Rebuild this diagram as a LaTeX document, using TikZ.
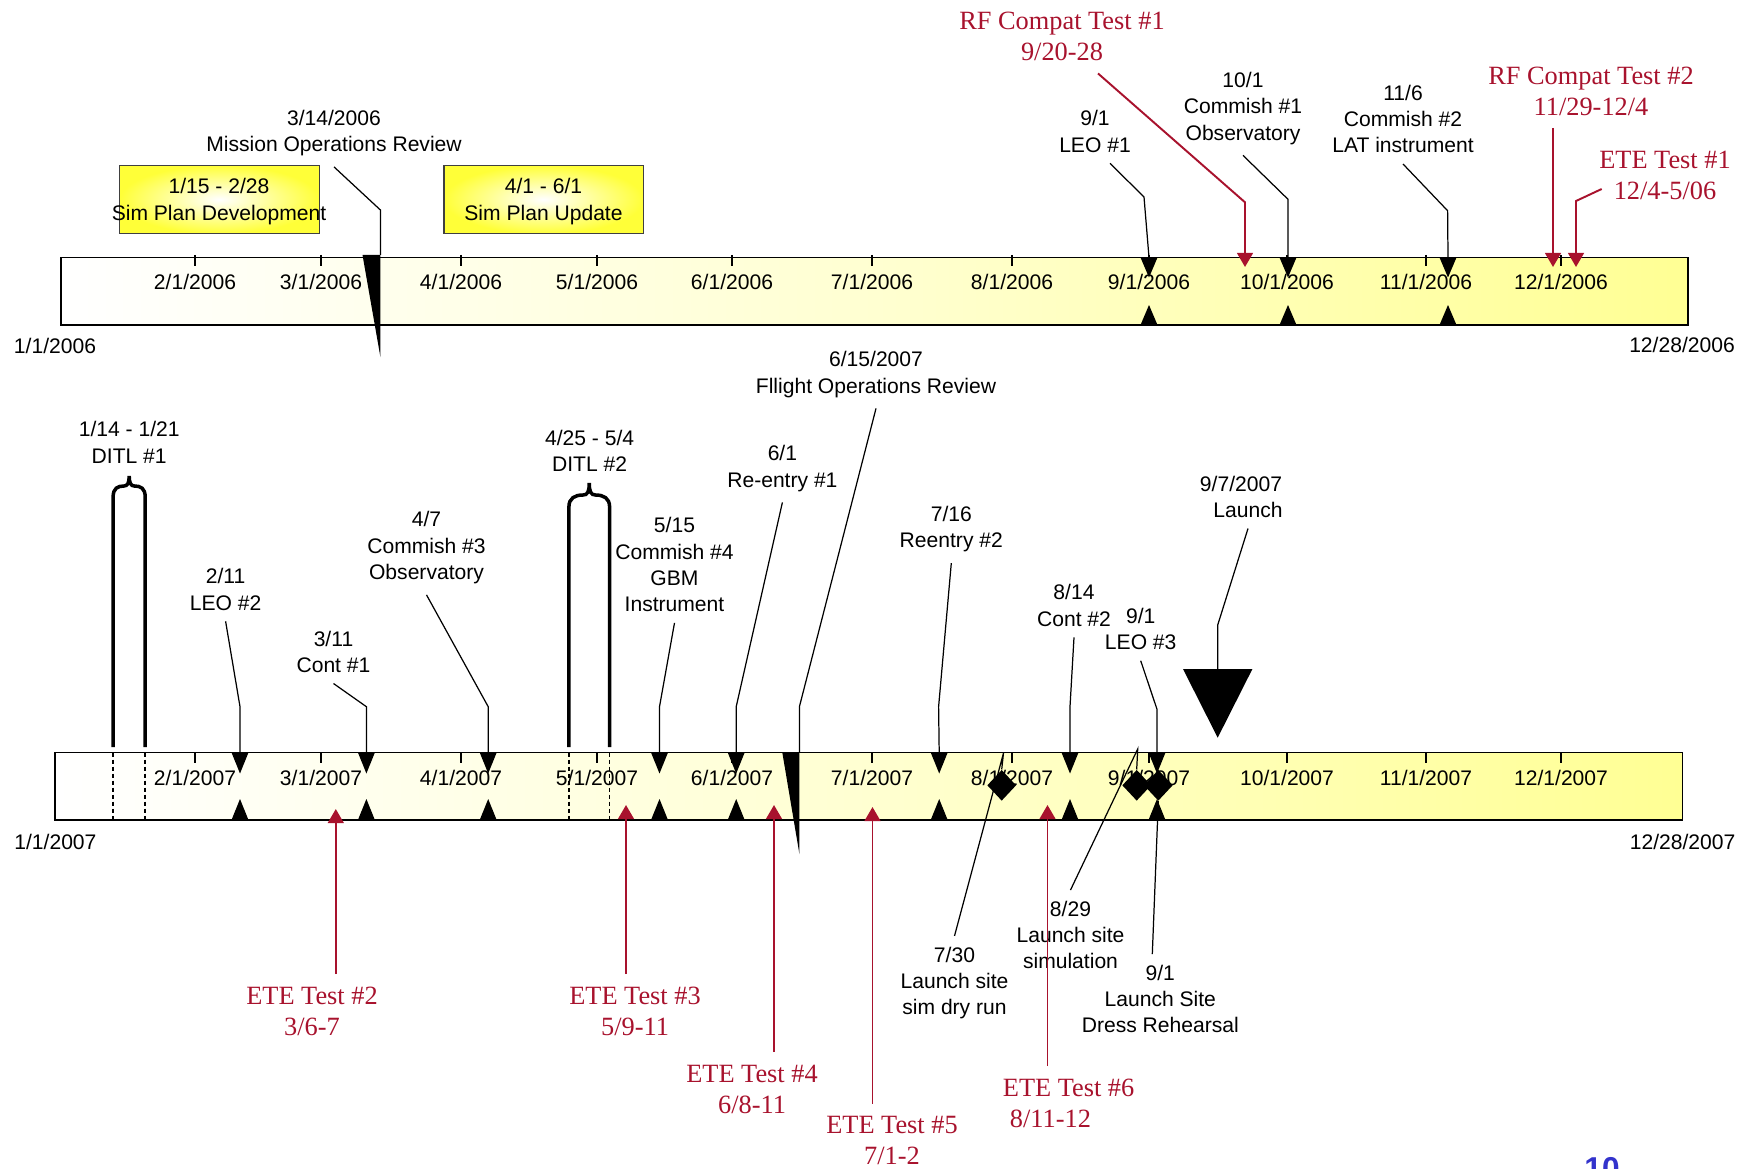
\documentclass[tikz,border=0pt]{standalone}
\usepackage{fontspec}
\setmainfont{Liberation Sans}
\newfontfamily\timesfont{Liberation Serif}
\usetikzlibrary{arrows.meta,shapes.geometric}
\definecolor{etered}{RGB}{168,18,45}
\definecolor{pageblue}{RGB}{51,51,204}
\tikzset{
  lbl/.style={font=\fontsize{12}{15}\selectfont,align=center,inner sep=6pt},
  redlbl/.style={font=\timesfont\fontsize{15}{17.6}\selectfont,text=etered,align=center,inner sep=7pt},
  datelbl/.style={font=\fontsize{12}{15}\selectfont,inner sep=0pt},
  bar/.style={draw,line width=1.1pt,left color=white,right color=yellow!42,middle color=yellow!18},
  simbox/.style={draw=black!75,line width=0.8pt,inner color=white,outer color=yellow!78},
  calline/.style={line width=0.7pt},
  redarrow/.style={etered,line width=1.1pt,-{Triangle[width=9pt,length=8pt]}},
  ditl/.style={line width=2pt},
  ditlin/.style={line width=0.8pt,dash pattern=on 2.5pt off 1.5pt},
  diam/.style={diamond,fill=black,inner sep=0pt,minimum width=16.5pt,minimum height=17.6pt}
}
\begin{document}
\begin{tikzpicture}[x=0.02cm,y=-0.02cm]
  \useasboundingbox (0,0) rectangle (1758,1169);
  \draw[bar] (61,257.5) rectangle (1688,325);
  \foreach \x/\m in {195/2,321/3,461/4,597/5,732/6,872/7,1012/8,1149/9,1287/10,1426/11,1561/12}{\draw[line width=0.6pt](\x,255)--(\x,266);\node[datelbl] (a\m) at (\x,282) {\m/1/2006};}
  \node[datelbl] (a1) at (55,345.5) {1/1/2006};
  \node[datelbl] (aend) at (1682,345) {12/28/2006};
  \draw[simbox] (119.6,165.3) rectangle (319.2,233.7);
  \node[lbl,inner sep=0pt] (spdev) at (219,201.5) {1/15 - 2/28\\Sim Plan Development};
  \draw[simbox] (443.8,165.3) rectangle (643.3,233.7);
  \node[lbl,inner sep=0pt] (spupd) at (543.5,201.5) {4/1 - 6/1\\Sim Plan Update};
  \node[lbl] (mor) at (334,133) {3/14/2006\\Mission Operations Review};
  \fill (362.5,255) -- (380.4,255) -- (380.4,357) -- cycle;
  \coordinate (mor-m) at (380.4,255);
  \draw[calline] (mor.south) -- (380.4,210) -- (mor-m);
  \foreach \x/\n in {1149/leo1,1288/comm1,1448/comm2}{\fill (\x-8.5,257.5)--(\x+8.5,257.5)--(\x,277.5)--cycle;\fill (\x-8.5,325)--(\x+8.5,325)--(\x,305)--cycle;\coordinate (\n-m) at (\x,257.5);}
  \node[lbl] (leo1) at (1095,131.5) {9/1\\LEO \#1};
  \draw[calline] (leo1.south) ++(15,0) -- (1144,197) -- (leo1-m);
  \node[lbl] (comm1) at (1243,108.3) {10/1\\Commish \#1\\Observatory};
  \draw[calline] (comm1.south) -- (1288,199.3) -- (comm1-m);
  \node[lbl] (comm2) at (1403,119) {11/6\\Commish \#2\\LAT instrument};
  \draw[calline] (comm2.south) -- (1447.6,210.7) -- (comm2-m);
  \coordinate (rfc1-m) at (1245,267);
  \coordinate (rfc2-m) at (1553,267);
  \coordinate (ete1-m) at (1576,267);
  \node[redlbl] (rfc1) at (1062,36.5) {RF Compat Test \#1\\9/20-28};
  \draw[redarrow] (rfc1.south) ++(36,0) -- (1245,202.3) -- (rfc1-m);
  \node[redlbl] (rfc2) at (1591,91) {RF Compat Test \#2\\11/29-12/4};
  \draw[redarrow] (rfc2.south -| rfc2-m) -- (rfc2-m);
  \node[redlbl] (ete1) at (1665,175) {ETE Test \#1\\12/4-5/06};
  \draw[redarrow] (ete1.west) ++(15,14) -- (1576,201) -- (ete1-m);

  \draw[bar] (55,752.5) rectangle (1682.5,820);
  \foreach \x/\m in {195/2,321/3,461/4,597/5,732/6,872/7,1012/8,1149/9,1287/10,1426/11,1561/12}{\draw[line width=0.6pt](\x,752.5)--(\x,763);\node[datelbl] (b\m) at (\x,778) {\m/1/2007};}
  \node[datelbl] (b1) at (55.4,841.7) {1/1/2007};
  \node[datelbl] (bend) at (1682.6,841.7) {12/28/2007};
  \node[lbl] (ditl1) at (129.2,442.5) {1/14 - 1/21\\DITL \#1};
  \draw[ditl] (113.1,747) -- (113.1,497) .. controls (113.1,488) and (118,486) .. (124,486) .. controls (127.5,486) and (129.2,483) .. (129.2,476) .. controls (129.2,483) and (130.9,486) .. (134.4,486) .. controls (140.4,486) and (145.2,488) .. (145.2,497) -- (145.2,747);
  \draw[ditlin] (113.1,752.5) -- (113.1,820) (145.2,752.5) -- (145.2,820);
  \node[lbl] (ditl2) at (589.6,450.8) {4/25 - 5/4\\DITL \#2};
  \draw[ditl] (568.9,747) -- (568.9,507) .. controls (568.9,498) and (575,495) .. (583,495) .. controls (587.5,495) and (589.25,492) .. (589.25,483) .. controls (589.25,492) and (591,495) .. (595.5,495) .. controls (603.5,495) and (609.6,498) .. (609.6,507) -- (609.6,747);
  \draw[ditlin] (568.9,752.5) -- (568.9,820) (609.6,752.5) -- (609.6,820);
  \foreach \x/\n in {240/leo2,366.4/cont1,488.2/comm3,659.5/comm4,736.2/reent1,939.2/reent2,1070/cont2,1157/leo3}{\fill (\x-8.5,752.5)--(\x+8.5,752.5)--(\x,773.5)--cycle;\fill (\x-8.5,820)--(\x+8.5,820)--(\x,799)--cycle;\coordinate (\n-m) at (\x,752.5);}
  \node[lbl] (leo2) at (225.6,589.5) {2/11\\LEO \#2};
  \draw[calline] (leo2.south) -- (240,706.7) -- (leo2-m);
  \node[lbl] (cont1) at (333.5,651.7) {3/11\\Cont \#1};
  \draw[calline] (cont1.south) -- (366.4,706.7) -- (cont1-m);
  \node[lbl] (comm3) at (426.5,547.8) {4/7\\Commish \#3\\Observatory};
  \draw[calline] (comm3.south) -- (488.2,706.7) -- (comm3-m);
  \node[lbl] (comm4) at (674.5,564.7) {5/15\\Commish \#4\\GBM\\Instrument};
  \draw[calline] (comm4.south) -- (659.5,706.7) -- (comm4-m);
  \node[lbl] (reent1) at (782.4,468.5) {6/1\\Re-entry \#1};
  \draw[calline] (reent1.south) -- (736.2,706.7) -- (reent1-m);
  \node[lbl] (fopr) at (876,374.5) {6/15/2007\\Fllight Operations Review};
  \fill (782.3,752.5) -- (799.4,752.5) -- (799.4,854) -- cycle;
  \coordinate (fopr-m) at (799.4,752.5);
  \draw[calline] (fopr.south) -- (799.4,706.7) -- (fopr-m);
  \node[lbl] (reent2) at (951.3,529.2) {7/16\\Reentry \#2};
  \draw[calline] (reent2.south) -- (938.6,706.7) -- (reent2-m);
  \node[lbl] (cont2) at (1074,605.5) {8/14\\Cont \#2};
  \draw[calline] (cont2.south) -- (1070,706.7) -- (cont2-m);
  \node[lbl] (leo3) at (1140.7,628.9) {9/1\\LEO \#3};
  \draw[calline] (leo3.south) -- (1157,709.3) -- (leo3-m);
  \node[lbl] (launch) at (1241,496.7) {9/7/2007\\\hspace*{8pt}Launch};
  \fill (1183,669) -- (1252.4,669) -- (1217.7,737.7) -- cycle;
  \coordinate (launch-m) at (1217.7,669);
  \draw[calline] (launch.south) ++(7,0) -- (1217.7,625) -- (launch-m);
  \node[diam] (d730) at (1001.7,785.3) {};
  \node[diam] (d829) at (1136.7,785.3) {};
  \node[diam] (d901) at (1158.3,785.3) {};
  \node[lbl] (dryrun) at (954.5,983) {7/30\\Launch site\\sim dry run};
  \draw[calline] (dryrun.north) -- (1003.5,753) -- (d730.north);
  \node[lbl] (lsim) at (1070.5,935) {8/29\\Launch site\\simulation};
  \draw[calline] (lsim.north) -- (1137.7,749) -- (d829.north);
  \node[lbl] (dress) at (1160.3,999.1) {9/1\\Launch Site\\Dress Rehearsal};
  \draw[calline] (dress.north) ++(-8,0) -- (d901.south);
  \coordinate (ete2-m) at (335.8,809);
  \coordinate (ete3-m) at (626,805);
  \coordinate (ete4-m) at (774,805);
  \coordinate (ete5-m) at (872.5,807);
  \coordinate (ete6-m) at (1047.5,805);
  \node[redlbl] (ete2) at (312,1011) {ETE Test \#2\\3/6-7};
  \draw[redarrow] (ete2.north -| ete2-m) -- (ete2-m);
  \node[redlbl] (ete3) at (635,1011) {ETE Test \#3\\5/9-11};
  \draw[redarrow] (ete3.north -| ete3-m) -- (ete3-m);
  \node[redlbl] (ete4) at (752,1089) {ETE Test \#4\\6/8-11};
  \draw[redarrow] (ete4.north -| ete4-m) -- (ete4-m);
  \node[redlbl] (ete5) at (892,1140.5) {ETE Test \#5\\7/1-2};
  \draw[redarrow] (ete5.north -| ete5-m) -- (ete5-m);
  \node[redlbl,align=left] (ete6) at (1068.6,1103) {ETE Test \#6\\\hspace*{4pt}8/11-12};
  \draw[redarrow] (ete6.north -| ete6-m) -- (ete6-m);
  \node[font=\bfseries\fontsize{18}{18}\selectfont,text=pageblue,anchor=base,inner sep=0pt] (pgno) at (1602,1179) {10};
\end{tikzpicture}
\end{document}
